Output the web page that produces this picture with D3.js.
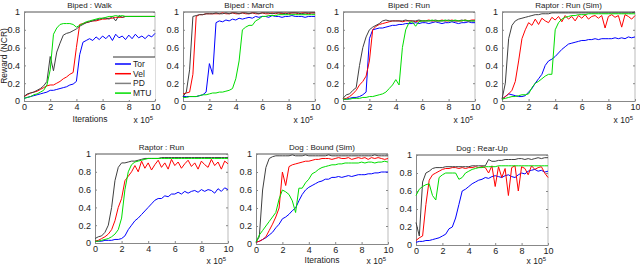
<!DOCTYPE html>
<meta charset="utf-8">
<script src="https://d3js.org/d3.v7.min.js"></script>
<style>
body { margin:0; background:#fff; }
svg { font-family:"Liberation Sans", Arial, sans-serif; }
.tick text { font-size:9px; fill:#222; }
.axis path { stroke:#888; }
.axis .tick line { stroke:#888; }
.title { font-size:8px; fill:#222; text-anchor:middle; }
.lbl { font-size:8.5px; fill:#222; }
.line { fill:none; stroke-width:1; }
</style>
<body></body>
<script>

// sampling grid (x 10^5 iterations)
var iters = [0,0.25,0.5,0.75,1,1.25,1.5,1.75,2,2.25,2.5,2.75,3,3.25,3.5,3.75,4,4.25,4.5,4.75,
             5,5.25,5.5,5.75,6,6.25,6.5,6.75,7,7.25,7.5,7.75,8,8.25,8.5,8.75,9,9.25,9.5,9.75,10];

var xTicks = [0,2,4,6,8,10];
var yTicks = [0,0.2,0.4,0.6,0.8,1];
var seriesNames = ["Tor","Vel","PD","MTU"];
var seriesColors = ["#0000ff","#ff0000","#404040","#00dd00"];
var titles = ["Biped : Walk","Biped : March","Biped : Run","Raptor : Run (Sim)",
              "Raptor : Run","Dog : Bound (Sim)","Dog : Rear-Up"];

// Biped : Walk
var walkTor = [0.03,0.04,0.05,0.06,0.07, 0.08,0.09,0.10,0.12,0.12, 0.13,0.14,0.15,0.16,0.18,
  0.19,0.22,0.52,0.66,0.68, 0.70,0.68,0.72,0.69,0.73, 0.70,0.74,0.68,0.75,0.71,
  0.73,0.69,0.74,0.70,0.75, 0.71,0.73,0.70,0.74,0.72, 0.76];
var walkVel = [0.05,0.07,0.09,0.10,0.11, 0.13,0.15,0.17,0.18,0.18, 0.20,0.22,0.25,0.27,0.30,
  0.32,0.60,0.86,0.87,0.88, 0.89,0.90,0.90,0.91,0.92, 0.92,0.93,0.93,0.94,0.94,
  0.94,0.95,0.95,0.95,0.95, 0.95,0.95,0.95,0.95,0.95, 0.95];
var walkPD = [0.05,0.08,0.09,0.10,0.12, 0.14,0.17,0.22,0.50,0.34, 0.55,0.65,0.74,0.76,0.77,
  0.79,0.81,0.84,0.86,0.88, 0.89,0.90,0.91,0.92,0.93, 0.93,0.92,0.95,0.90,0.96,
  0.94,0.95,0.95,0.95,0.95, 0.95,0.95,0.95,0.95,0.95, 0.95];
var walkMTU = [0.03,0.04,0.05,0.07,0.08, 0.10,0.12,0.18,0.35,0.75, 0.82,0.86,0.87,0.87,0.87,
  0.86,0.83,0.85,0.87,0.89, 0.90,0.91,0.92,0.93,0.93, 0.94,0.95,0.95,0.96,0.95,
  0.96,0.95,0.95,0.95,0.95, 0.95,0.95,0.95,0.95,0.95, 0.95];

// Biped : March
var marchTor = [0.05,0.05,0.05,0.05,0.05, 0.06,0.07,0.10,0.42,0.30, 0.88,0.90,0.89,0.91,0.90,
  0.92,0.91,0.93,0.92,0.93, 0.94,0.93,0.95,0.94,0.95, 0.95,0.94,0.96,0.95,0.95,
  0.94,0.95,0.95,0.96,0.95, 0.95,0.95,0.94,0.95,0.95, 0.95];
var marchVel = [0.08,0.09,0.10,0.30,0.95, 0.97,0.97,0.98,0.98,0.98, 0.98,0.98,0.99,0.98,0.98,
  0.99,0.98,0.98,0.99,0.98, 0.98,0.99,0.98,0.98,0.99, 0.98,0.98,0.99,0.98,0.99,
  0.98,0.99,0.98,0.99,0.99, 0.98,0.99,0.99,0.98,0.99, 0.99];
var marchPD = [0.05,0.10,0.35,0.95,0.96, 0.97,0.97,0.98,0.98,0.98, 0.99,0.98,0.98,0.99,0.98,
  0.99,0.99,0.98,0.99,0.99, 0.98,0.99,0.99,0.98,0.99, 0.99,0.99,0.98,0.99,0.99,
  0.99,0.98,0.99,0.99,0.99, 0.99,0.98,0.99,0.99,0.99, 0.99];
var marchMTU = [0.04,0.04,0.05,0.05,0.05, 0.06,0.07,0.07,0.08,0.09, 0.09,0.10,0.10,0.11,0.12,
  0.14,0.25,0.45,0.80,0.83, 0.85,0.85,0.90,0.92,0.95, 0.95,0.96,0.96,0.96,0.97,
  0.97,0.97,0.97,0.97,0.97, 0.97,0.97,0.97,0.97,0.97, 0.97];

// Biped : Run
var runTor = [0.02,0.02,0.03,0.04,0.04, 0.05,0.07,0.10,0.70,0.80, 0.81,0.82,0.82,0.83,0.84,
  0.85,0.85,0.86,0.86,0.87, 0.87,0.87,0.88,0.87,0.88, 0.88,0.87,0.88,0.89,0.88,
  0.87,0.88,0.88,0.89,0.88, 0.87,0.88,0.88,0.89,0.88, 0.88];
var runVel = [0.02,0.03,0.05,0.08,0.12, 0.18,0.22,0.28,0.45,0.80, 0.84,0.86,0.87,0.88,0.89,
  0.90,0.90,0.90,0.89,0.90, 0.90,0.90,0.89,0.90,0.90, 0.90,0.91,0.90,0.90,0.90,
  0.91,0.90,0.90,0.91,0.90, 0.90,0.90,0.91,0.90,0.91, 0.91];
var runPD = [0.03,0.07,0.08,0.12,0.15, 0.40,0.60,0.72,0.80,0.83, 0.85,0.87,0.90,0.91,0.90,
  0.90,0.90,0.90,0.90,0.91, 0.90,0.90,0.90,0.91,0.90, 0.90,0.90,0.90,0.91,0.90,
  0.90,0.90,0.91,0.90,0.90, 0.90,0.91,0.90,0.90,0.90, 0.90];
var runMTU = [0.02,0.02,0.02,0.03,0.03, 0.03,0.04,0.04,0.05,0.05, 0.06,0.07,0.08,0.10,0.14,
  0.18,0.24,0.18,0.60,0.80, 0.88,0.89,0.84,0.89,0.90, 0.90,0.90,0.91,0.90,0.90,
  0.90,0.91,0.90,0.90,0.91, 0.90,0.90,0.91,0.90,0.90, 0.90];

// Raptor : Run (Sim)
var rsimTor = [0.02,0.05,0.08,0.07,0.06, 0.05,0.05,0.06,0.10,0.14, 0.20,0.25,0.30,0.40,0.45,
  0.47,0.50,0.54,0.58,0.61, 0.64,0.65,0.66,0.67,0.68, 0.68,0.69,0.69,0.70,0.69,
  0.70,0.70,0.70,0.70,0.71, 0.70,0.71,0.70,0.72,0.71, 0.72];
var rsimVel = [0.02,0.05,0.08,0.12,0.22, 0.45,0.70,0.80,0.88,0.85, 0.92,0.86,0.93,0.90,0.88,
  0.94,0.91,0.95,0.89,0.96, 0.92,0.95,0.90,0.96,0.93, 0.97,0.92,0.95,0.96,0.93,
  0.96,0.82,0.95,0.97,0.94, 0.96,0.83,0.97,0.95,0.92, 0.96];
var rsimPD = [0.02,0.20,0.70,0.85,0.90, 0.92,0.93,0.94,0.95,0.96, 0.97,0.97,0.98,0.98,0.98,
  0.99,0.99,0.99,0.99,0.99, 0.99,0.99,0.99,0.99,0.99, 0.99,0.99,0.99,0.99,0.99,
  0.99,0.99,0.99,0.99,0.99, 0.99,0.99,0.99,0.99,0.99, 1.00];
var rsimMTU = [0.02,0.03,0.04,0.05,0.05, 0.06,0.07,0.07,0.08,0.15, 0.20,0.22,0.25,0.28,0.30,
  0.30,0.80,0.88,0.92,0.94, 0.95,0.96,0.96,0.97,0.97, 0.97,0.98,0.98,0.98,0.98,
  0.98,0.98,0.98,0.98,0.98, 0.98,0.98,0.98,0.98,0.98, 0.98];

// Raptor : Run
var raptorTor = [0.02,0.02,0.02,0.03,0.03, 0.03,0.04,0.04,0.05,0.08, 0.15,0.20,0.25,0.28,0.32,
  0.36,0.40,0.44,0.48,0.50, 0.50,0.53,0.52,0.55,0.55, 0.57,0.55,0.58,0.56,0.58,
  0.59,0.57,0.60,0.58,0.60, 0.59,0.56,0.61,0.58,0.62, 0.60];
var raptorVel = [0.02,0.03,0.05,0.07,0.10, 0.15,0.25,0.40,0.50,0.70, 0.75,0.80,0.87,0.80,0.92,
  0.84,0.90,0.82,0.88,0.93, 0.85,0.90,0.83,0.94,0.87, 0.91,0.84,0.89,0.93,0.86,
  0.90,0.83,0.92,0.88,0.85, 0.94,0.87,0.91,0.83,0.92, 0.89];
var raptorPD = [0.05,0.07,0.08,0.12,0.20, 0.40,0.70,0.85,0.90,0.90, 0.91,0.92,0.92,0.93,0.94,
  0.95,0.95,0.95,0.95,0.95, 0.96,0.96,0.96,0.96,0.96, 0.96,0.96,0.96,0.96,0.96,
  0.96,0.96,0.96,0.96,0.96, 0.96,0.96,0.96,0.96,0.96, 0.96];
var raptorMTU = [0.02,0.02,0.03,0.04,0.05, 0.07,0.10,0.15,0.28,0.60, 0.80,0.88,0.91,0.92,0.93,
  0.94,0.95,0.95,0.95,0.95, 0.95,0.95,0.95,0.95,0.95, 0.95,0.95,0.95,0.95,0.95,
  0.95,0.95,0.95,0.95,0.95, 0.95,0.95,0.95,0.95,0.95, 0.95];

// Dog : Bound (Sim)
var boundTor = [0.02,0.03,0.05,0.07,0.10, 0.13,0.18,0.22,0.28,0.30, 0.33,0.37,0.40,0.48,0.55,
  0.60,0.63,0.65,0.67,0.69, 0.70,0.72,0.72,0.74,0.74, 0.75,0.74,0.75,0.76,0.75,
  0.76,0.77,0.77,0.77,0.78, 0.78,0.79,0.79,0.80,0.80, 0.80];
var boundVel = [0.02,0.03,0.05,0.08,0.15, 0.22,0.30,0.40,0.80,0.65, 0.86,0.88,0.89,0.90,0.91,
  0.92,0.92,0.93,0.94,0.94, 0.95,0.95,0.95,0.94,0.95, 0.96,0.95,0.95,0.96,0.94,
  0.95,0.96,0.95,0.96,0.94, 0.96,0.95,0.96,0.95,0.94, 0.95];
var boundPD = [0.02,0.08,0.60,0.85,0.95, 0.97,0.98,0.98,0.98,0.98, 0.98,0.99,0.98,0.98,0.98,
  0.99,0.98,0.98,0.98,0.98, 0.98,0.98,0.99,0.98,0.98, 0.98,0.98,0.98,0.98,0.98,
  0.98,0.98,0.98,0.98,0.98, 0.98,0.99,0.98,0.98,0.98, 0.98];
var boundMTU = [0.02,0.10,0.15,0.20,0.25, 0.30,0.35,0.50,0.60,0.58, 0.55,0.48,0.35,0.62,0.62,
  0.68,0.72,0.78,0.80,0.83, 0.85,0.86,0.87,0.88,0.88, 0.89,0.89,0.90,0.90,0.90,
  0.90,0.90,0.91,0.90,0.91, 0.91,0.90,0.91,0.91,0.92, 0.91];

// Dog : Rear-Up
var rearTor = [0.03,0.04,0.04,0.05,0.05, 0.06,0.07,0.08,0.10,0.12, 0.18,0.20,0.30,0.45,0.60,
  0.62,0.65,0.68,0.70,0.72, 0.73,0.75,0.74,0.76,0.77, 0.76,0.75,0.77,0.78,0.76,
  0.75,0.78,0.80,0.79,0.82, 0.83,0.84,0.82,0.83,0.81, 0.82];
var rearVel = [0.05,0.08,0.10,0.45,0.72, 0.78,0.80,0.82,0.84,0.85, 0.85,0.86,0.86,0.85,0.86,
  0.85,0.86,0.86,0.87,0.86, 0.87,0.86,0.80,0.88,0.65, 0.87,0.75,0.85,0.55,0.86,
  0.88,0.60,0.87,0.85,0.78, 0.88,0.84,0.86,0.87,0.80, 0.75];
var rearPD = [0.25,0.10,0.70,0.80,0.82, 0.85,0.86,0.86,0.86,0.87, 0.87,0.87,0.87,0.87,0.87,
  0.87,0.87,0.88,0.88,0.88, 0.88,0.88,0.95,0.93,0.93, 0.94,0.94,0.95,0.95,0.95,
  0.95,0.96,0.96,0.95,0.96, 0.95,0.96,0.97,0.96,0.97, 0.97];
var rearMTU = [0.55,0.62,0.65,0.67,0.68, 0.55,0.50,0.75,0.78,0.80, 0.80,0.80,0.80,0.73,0.75,
  0.80,0.82,0.84,0.85,0.86, 0.86,0.87,0.87,0.87,0.87, 0.88,0.88,0.88,0.88,0.88,
  0.88,0.88,0.88,0.88,0.88, 0.88,0.88,0.88,0.88,0.88, 0.88];

var panelData = [
  [walkTor, walkVel, walkPD, walkMTU],
  [marchTor, marchVel, marchPD, marchMTU],
  [runTor, runVel, runPD, runMTU],
  [rsimTor, rsimVel, rsimPD, rsimMTU],
  [raptorTor, raptorVel, raptorPD, raptorMTU],
  [boundTor, boundVel, boundPD, boundMTU],
  [rearTor, rearVel, rearPD, rearMTU]
];

// plot boxes: left, right, top, bottom
var boxes = [
  [24,155,12,101], [183,315,12,101], [343,475,12,101], [502,635,12,101],
  [95,228,154,243], [256,388,154,244], [416,548,155,245]
];

var svg = d3.select("body").append("svg")
  .attr("width", 640)
  .attr("height", 267);

boxes.forEach(function(b, p) {
  var x = d3.scaleLinear().domain([0, 10]).range([b[0], b[1]]);
  var y = d3.scaleLinear().domain([0, 1]).range([b[3], b[2]]);

  var g = svg.append("g");

  // box: top and right edges
  g.append("line").attr("x1", b[0]).attr("x2", b[1]).attr("y1", b[2]).attr("y2", b[2])
    .attr("stroke", "#555");
  g.append("line").attr("x1", b[1]).attr("x2", b[1]).attr("y1", b[2]).attr("y2", b[3])
    .attr("stroke", "#bbb");
  g.append("g").attr("class", "axis")
    .attr("transform", "translate(" + b[1] + ",0)")
    .call(d3.axisRight(y).tickValues(yTicks).tickSize(-2).tickFormat(""))
    .select(".domain").remove();

  g.append("g").attr("class", "axis")
    .attr("transform", "translate(0," + b[3] + ")")
    .call(d3.axisBottom(x).tickValues(xTicks).tickSize(-2).tickSizeOuter(0).tickPadding(3));

  g.append("g").attr("class", "axis")
    .attr("transform", "translate(" + b[0] + ",0)")
    .call(d3.axisLeft(y).tickValues(yTicks).tickSize(-2).tickSizeOuter(0).tickPadding(4)
      .tickFormat(d3.format("~g")));

  g.append("text").attr("class", "title")
    .attr("x", (b[0] + b[1]) / 2).attr("y", b[2] - 4)
    .text(titles[p]);

  var xl = g.append("text").attr("class", "lbl")
    .attr("x", b[1] - 2).attr("y", Math.min(b[3] + 22, 264))
    .attr("text-anchor", "end");
  xl.append("tspan").text("x 10");
  xl.append("tspan").attr("dy", -3).style("font-size", "6px").text("5");

  var line = d3.line()
    .x(function(d, i) { return x(iters[i]); })
    .y(function(d) { return y(d); });

  panelData[p].forEach(function(s, k) {
    g.append("path")
      .attr("class", "line")
      .attr("stroke", seriesColors[k])
      .attr("d", line(s));
  });
});

// axis labels
svg.append("text").attr("class", "lbl")
  .attr("transform", "translate(7,56) rotate(-90)")
  .attr("text-anchor", "middle")
  .text("Reward (NCR)");
svg.append("text").attr("class", "lbl")
  .attr("x", 90).attr("y", 122).attr("text-anchor", "middle")
  .text("Iterations");
svg.append("text").attr("class", "lbl")
  .attr("x", 322).attr("y", 263).attr("text-anchor", "middle")
  .text("Iterations");

// legend (first panel)
var legend = svg.append("g");
legend.append("rect")
  .attr("x", 113).attr("y", 57).attr("width", 42).attr("height", 43)
  .attr("fill", "#fff");
legend.append("line").attr("x1", 113).attr("x2", 155).attr("y1", 57).attr("y2", 57)
  .attr("stroke", "#333");
seriesNames.forEach(function(n, k) {
  var yy = 64 + k * 9.7;
  legend.append("line")
    .attr("x1", 115).attr("x2", 131).attr("y1", yy).attr("y2", yy)
    .attr("stroke", k == 2 ? "#808080" : seriesColors[k]).attr("stroke-width", 1.5);
  legend.append("text").attr("class", "lbl")
    .attr("x", 133).attr("y", yy + 3)
    .text(n);
});

</script>
